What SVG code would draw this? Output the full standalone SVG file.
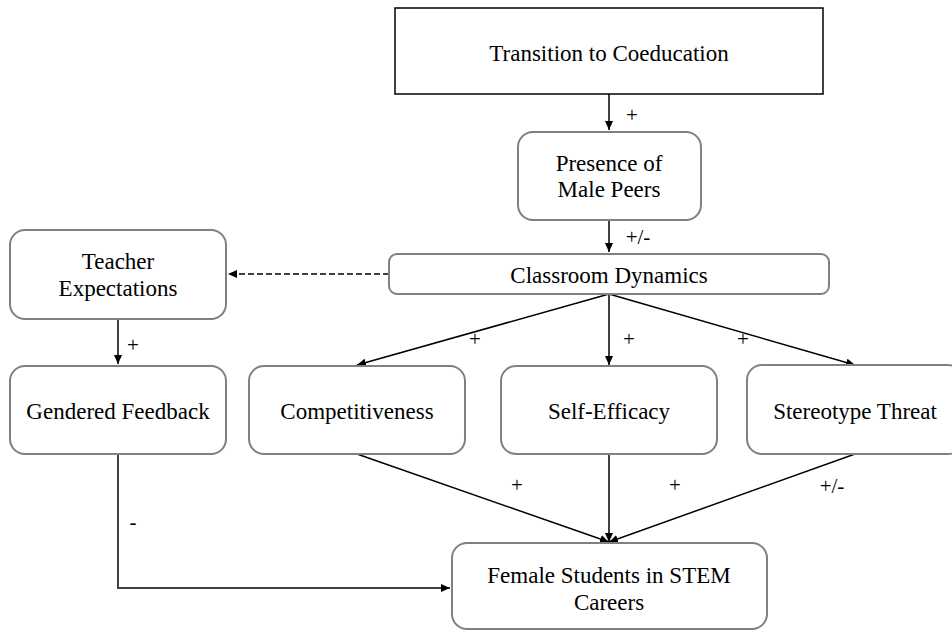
<svg xmlns="http://www.w3.org/2000/svg" width="952" height="630" viewBox="0 0 952 630" font-family="'Liberation Serif', 'Times New Roman', 'DejaVu Serif', serif">
<defs>
<marker id="ah" markerWidth="10" markerHeight="8" refX="9" refY="4" orient="auto" markerUnits="userSpaceOnUse">
<path d="M0,0 L9,4 L0,8 Z" fill="#000"/>
</marker>
<style>
.node{fill:#fff;stroke:#808080;stroke-width:2}
.top{fill:#fff;stroke:#000;stroke-width:1.5}
.t{font-family:'Liberation Serif','Times New Roman','DejaVu Serif',serif;font-size:23px;text-anchor:middle;fill:#000}
.l{font-family:'Liberation Serif','Times New Roman','DejaVu Serif',serif;font-size:21px;text-anchor:middle;fill:#000}
.c{fill:none;stroke:#000;stroke-width:1.5}
.g{fill:none;stroke:#404040;stroke-width:2}
</style>
</defs>
<rect width="952" height="630" fill="#fff"/>
<g id="connectors">
<line class="c" x1="609" y1="94" x2="609" y2="130" marker-end="url(#ah)"/>
<line class="c" x1="609" y1="220" x2="609" y2="252" marker-end="url(#ah)"/>
<line class="c" x1="389" y1="274" x2="228" y2="274" stroke-dasharray="6,3" marker-end="url(#ah)"/>
<line class="c" x1="118" y1="319" x2="118" y2="364" marker-end="url(#ah)"/>
<line class="c" x1="609" y1="294" x2="357" y2="365" marker-end="url(#ah)"/>
<line class="c" x1="609" y1="294" x2="609" y2="365" marker-end="url(#ah)"/>
<line class="c" x1="609" y1="294" x2="855" y2="365" marker-end="url(#ah)"/>
<line class="c" x1="357" y1="454" x2="609" y2="542" marker-end="url(#ah)"/>
<line class="c" x1="609" y1="454" x2="609" y2="542" marker-end="url(#ah)"/>
<line class="c" x1="855" y1="454" x2="609" y2="542" marker-end="url(#ah)"/>
<polyline class="g" points="118,454 118,588 450,588" marker-end="url(#ah)"/>
<text class="l" x="632" y="122">+</text>
<text class="l" x="638" y="244">+/-</text>
<text class="l" x="133" y="352">+</text>
<text class="l" x="475" y="346">+</text>
<text class="l" x="629" y="346">+</text>
<text class="l" x="743" y="346">+</text>
<text class="l" x="517" y="492">+</text>
<text class="l" x="675" y="492">+</text>
<text class="l" x="832" y="493">+/-</text>
<text class="l" x="133" y="529">-</text>
</g>
<g id="transition">
<rect class="top" x="395" y="8" width="428" height="86"/>
<text class="t" x="609" y="61">Transition to Coeducation</text>
</g>
<g id="presence">
<rect class="node" x="518" y="132" width="183" height="88" rx="15"/>
<text class="t" x="609" y="171">Presence of</text>
<text class="t" x="609" y="197">Male Peers</text>
</g>
<g id="classroom">
<rect class="node" x="389" y="254" width="440" height="40" rx="8"/>
<text class="t" x="609" y="283">Classroom Dynamics</text>
</g>
<g id="teacher">
<rect class="node" x="10" y="230" width="216" height="89" rx="15"/>
<text class="t" x="118" y="269">Teacher</text>
<text class="t" x="118" y="296">Expectations</text>
</g>
<g id="gendered">
<rect class="node" x="10" y="366" width="216" height="88" rx="15"/>
<text class="t" x="118" y="419">Gendered Feedback</text>
</g>
<g id="competitiveness">
<rect class="node" x="249" y="366" width="216" height="88" rx="15"/>
<text class="t" x="357" y="419">Competitiveness</text>
</g>
<g id="selfefficacy">
<rect class="node" x="501" y="366" width="216" height="88" rx="15"/>
<text class="t" x="609" y="419">Self-Efficacy</text>
</g>
<g id="stereotype">
<rect class="node" x="747" y="365" width="216" height="89" rx="15"/>
<text class="t" x="855" y="419">Stereotype Threat</text>
</g>
<g id="female">
<rect class="node" x="452" y="543" width="315" height="86" rx="15"/>
<text class="t" x="609" y="583">Female Students in STEM</text>
<text class="t" x="609" y="610">Careers</text>
</g>
</svg>
